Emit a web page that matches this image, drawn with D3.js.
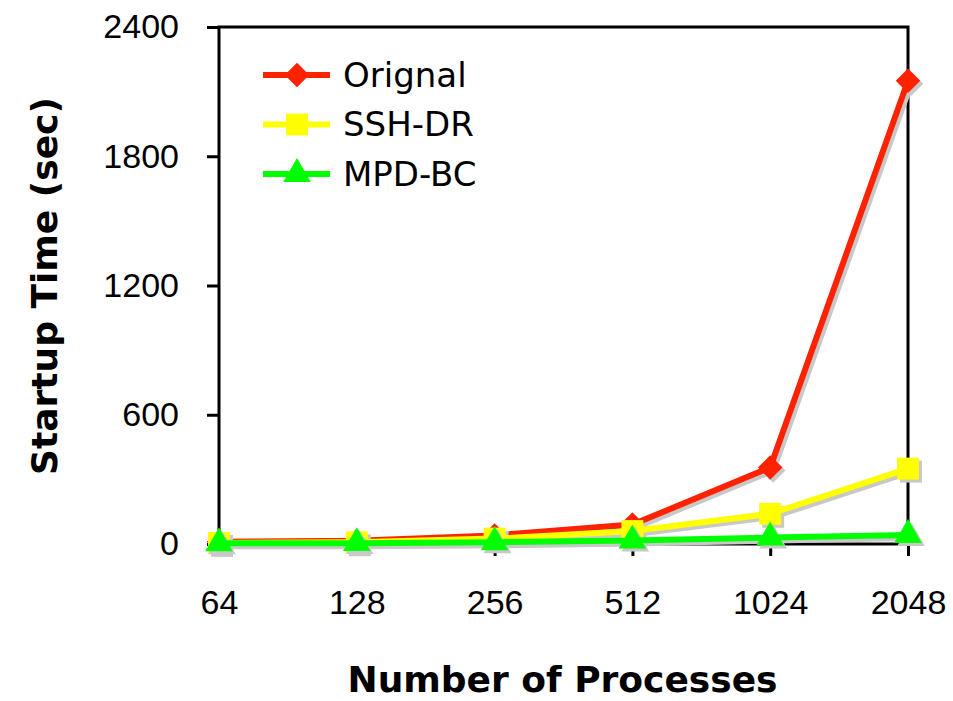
<!DOCTYPE html>
<html>
<head>
<meta charset="utf-8">
<script src="https://cdn.jsdelivr.net/npm/d3@7"></script>
<style>
  body { margin: 0; background: #fff; }
  svg { display: block; font-family: "Comic Sans MS", "DejaVu Sans", sans-serif; }
</style>
</head>
<body>
<div id="chart"></div>
<script>
// Startup time vs number of processes
const processes = ["64", "128", "256", "512", "1024", "2048"];
const original = [10, 15, 40, 90, 355, 2150];
const sshDr = [5, 8, 25, 60, 140, 350];
const mpdBc = [3, 4, 8, 16, 30, 42];
const yTicks = [0, 600, 1200, 1800, 2400];

const series = [
    { label: "Orignal", values: original, color: "#ff2200", shape: "diamond" },
    { label: "SSH-DR", values: sshDr, color: "#ffff00", shape: "square" },
    { label: "MPD-BC", values: mpdBc, color: "#00ff00", shape: "triangle" }
];

const width = 953, height = 701;
const margin = { top: 27, right: 45, bottom: 157, left: 219 };
const innerW = width - margin.left - margin.right;
const innerH = height - margin.top - margin.bottom;

const svg = d3.select("#chart").append("svg")
    .attr("width", width)
    .attr("height", height);

const g = svg.append("g")
    .attr("transform", `translate(${margin.left},${margin.top})`);

const x = d3.scalePoint().domain(processes).range([0, innerW]);
const y = d3.scaleLinear().domain([0, 2400]).range([innerH, 0]);

const symbolFor = shape => {
    if (shape === "diamond") return d3.symbol().type(d3.symbolSquare).size(300)();
    if (shape === "square") return d3.symbol().type(d3.symbolSquare).size(480)();
    return d3.symbol().type(d3.symbolTriangle).size(330)();
};
const rotFor = shape => shape === "diamond" ? " rotate(45)" : "";

const line = d3.line()
    .x((d, i) => x(processes[i]))
    .y(d => y(d));

// axes
const yAxis = g.append("g")
    .call(d3.axisLeft(y).tickValues(yTicks).tickFormat(d3.format("d")).tickSize(12).tickPadding(28));
const xAxis = g.append("g")
    .attr("transform", `translate(0,${innerH})`)
    .call(d3.axisBottom(x).tickSize(12).tickPadding(34));

[yAxis, xAxis].forEach(a => {
    a.select(".domain").remove();
    a.selectAll(".tick line").attr("stroke", "#000").attr("stroke-width", 3);
    a.selectAll("text").attr("font-size", 34).attr("fill", "#000");
});

// frame
g.append("rect")
    .attr("width", innerW)
    .attr("height", innerH)
    .attr("fill", "none")
    .attr("stroke", "#000")
    .attr("stroke-width", 3);

// series with drop shadows
series.forEach(s => {
    const shadow = g.append("g").attr("transform", "translate(3,3)");
    shadow.append("path")
        .datum(s.values)
        .attr("fill", "none")
        .attr("stroke", "#c8c8c8")
        .attr("stroke-width", 6)
        .attr("d", line);
    shadow.selectAll("path.m")
        .data(s.values)
        .join("path")
        .attr("class", "m")
        .attr("d", symbolFor(s.shape))
        .attr("transform", (d, i) => `translate(${x(processes[i])},${y(d)})${rotFor(s.shape)}`)
        .attr("fill", "#c8c8c8");

    g.append("path")
        .datum(s.values)
        .attr("fill", "none")
        .attr("stroke", s.color)
        .attr("stroke-width", 6)
        .attr("d", line);
    g.selectAll(null)
        .data(s.values)
        .join("path")
        .attr("d", symbolFor(s.shape))
        .attr("transform", (d, i) => `translate(${x(processes[i])},${y(d)})${rotFor(s.shape)}`)
        .attr("fill", s.color);
});

// legend
const legend = g.append("g").attr("transform", "translate(44,48)");
series.forEach((s, i) => {
    const row = legend.append("g").attr("transform", `translate(0,${i * 49.5})`);
    row.append("line")
        .attr("x1", 0).attr("x2", 67)
        .attr("stroke", s.color)
        .attr("stroke-width", 6);
    row.append("path")
        .attr("d", symbolFor(s.shape))
        .attr("transform", `translate(34,0)${rotFor(s.shape)}`)
        .attr("fill", s.color);
    row.append("text")
        .attr("x", 80)
        .attr("dy", "0.35em")
        .attr("font-size", 34)
        .text(s.label);
});

// axis titles
svg.append("text")
    .attr("x", margin.left + innerW / 2 - 1)
    .attr("y", 692)
    .attr("text-anchor", "middle")
    .attr("font-size", 36)
    .attr("font-weight", "bold")
    .text("Number of Processes");

svg.append("text")
    .attr("transform", "translate(57,286) rotate(-90)")
    .attr("text-anchor", "middle")
    .attr("font-size", 36)
    .attr("font-weight", "bold")
    .text("Startup Time (sec)");
</script>
</body>
</html>
